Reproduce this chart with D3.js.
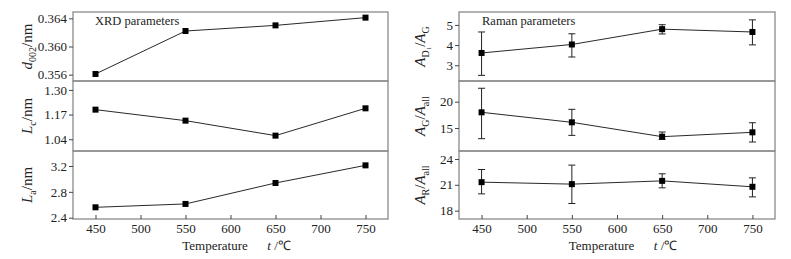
<!DOCTYPE html>
<html><head><meta charset="utf-8">
<script src="https://cdn.jsdelivr.net/npm/d3@7"></script>
<style>body{margin:0;background:#fff}svg{display:block}text{font-family:"Liberation Serif","Times New Roman",serif;fill:#222}</style>
</head><body><svg id="c" width="791" height="259"></svg>
<script>
const temps = [450, 550, 650, 750];
const xTicks = [450, 500, 550, 600, 650, 700, 750];
// XRD parameters
const d002 = [0.3561, 0.3622, 0.3630, 0.3641];
const Lc = [1.196, 1.138, 1.059, 1.203];
const La = [2.561, 2.613, 2.937, 3.21];
// Raman parameters (value, error low, error high)
const AD1AG = [3.61, 4.03, 4.79, 4.65];
const AD1AG_lo = [2.50, 3.41, 4.55, 4.01];
const AD1AG_hi = [4.65, 4.56, 5.01, 5.25];
const AGAall = [17.98, 16.08, 13.35, 14.18];
const AGAall_lo = [12.97, 13.60, 12.85, 12.34];
const AGAall_hi = [22.55, 18.55, 14.24, 16.00];
const ARAall = [21.31, 21.08, 21.46, 20.77];
const ARAall_lo = [19.95, 18.83, 20.65, 19.60];
const ARAall_hi = [22.78, 23.29, 22.28, 21.81];

const svg = d3.select("#c");
const frameCol = "#8a8a8a";
const tops = [12, 81, 151], bots = [81, 151, 219];

const charts = [
  {x0: 73, x1: 388, title: "XRD parameters", titleX: 95, labelX: 27,
   panels: [
    {vals: d002, dom: [0.3551, 0.3649], ticks: [0.356, 0.360, 0.364], fmt: d3.format(".3f"),
     lab: ["d", "002", "/nm", ""]},
    {vals: Lc, dom: [0.978, 1.347], ticks: [1.04, 1.17, 1.30], fmt: d3.format(".2f"),
     lab: ["L", "c", "/nm", ""]},
    {vals: La, dom: [2.38, 3.432], ticks: [2.4, 2.8, 3.2], fmt: d3.format(".1f"),
     lab: ["L", "a", "/nm", ""]}
   ]},
  {x0: 459, x1: 775, title: "Raman parameters", titleX: 482, labelX: 420,
   panels: [
    {vals: AD1AG, lo: AD1AG_lo, hi: AD1AG_hi, dom: [2.22, 5.64], ticks: [3, 4, 5], fmt: d3.format("d"),
     lab: ["A", "D\u2081", "/", "A", "G"]},
    {vals: AGAall, lo: AGAall_lo, hi: AGAall_hi, dom: [10.63, 23.93], ticks: [15, 20], fmt: d3.format("d"),
     lab: ["A", "G", "/", "A", "all"]},
    {vals: ARAall, lo: ARAall_lo, hi: ARAall_hi, dom: [17.03, 24.93], ticks: [18, 21, 24], fmt: d3.format("d"),
     lab: ["A", "R", "/", "A", "all"]}
   ]}
];

charts.forEach(ch => {
  const x = d3.scaleLinear().domain([425, 775]).range([ch.x0, ch.x1]);
  ch.panels.forEach((p, i) => {
    const y = d3.scaleLinear().domain(p.dom).range([bots[i], tops[i]]);
    const g = svg.append("g");
    g.append("rect").attr("x", ch.x0).attr("y", tops[i]).attr("width", ch.x1 - ch.x0)
      .attr("height", bots[i] - tops[i]).attr("fill", "none").attr("stroke", frameCol).attr("stroke-width", 1.3);
    // y axis
    const ya = g.append("g").attr("transform", `translate(${ch.x0},0)`)
      .call(d3.axisLeft(y).tickValues(p.ticks).tickFormat(p.fmt).tickSize(4).tickPadding(2));
    ya.select(".domain").remove();
    ya.selectAll("line").attr("stroke", "#444");
    ya.selectAll("text").attr("font-size", 13).attr("fill", "#222").attr("font-family", "Liberation Serif");
    // line
    const pts = temps.map((t, k) => [x(t), y(p.vals[k])]);
    g.append("path").attr("d", d3.line()(pts)).attr("fill", "none").attr("stroke", "#111").attr("stroke-width", 0.9);
    if (p.lo) {
      temps.forEach((t, k) => {
        const xx = x(t), ylo = y(p.lo[k]), yhi = y(p.hi[k]);
        g.append("line").attr("x1", xx).attr("x2", xx).attr("y1", ylo).attr("y2", yhi).attr("stroke", "#222");
        [ylo, yhi].forEach(yy => g.append("line").attr("x1", xx - 3.5).attr("x2", xx + 3.5)
          .attr("y1", yy).attr("y2", yy).attr("stroke", "#222"));
      });
    }
    g.selectAll("rect.m").data(pts).join("rect").attr("class", "m")
      .attr("x", d => d[0] - 3).attr("y", d => d[1] - 3).attr("width", 6).attr("height", 6).attr("fill", "#000");
    // y label
    const cy = (tops[i] + bots[i]) / 2;
    const t = g.append("text").attr("transform", `translate(${ch.labelX + 5},${cy}) rotate(-90)`)
      .attr("text-anchor", "middle").attr("font-size", 15);
    t.append("tspan").attr("font-style", "italic").text(p.lab[0]);
    t.append("tspan").attr("font-size", 10).attr("dy", 4).text(p.lab[1]);
    if (p.lab[3]) {
      t.append("tspan").attr("dy", -4).text(p.lab[2]);
      t.append("tspan").attr("font-style", "italic").text(p.lab[3]);
      t.append("tspan").attr("font-size", 10).attr("dy", 4).text(p.lab[4]);
    } else {
      t.append("tspan").attr("dy", -4).text(p.lab[2]);
    }
  });
  // x axis (ticks inward)
  const xa = svg.append("g").attr("transform", `translate(0,${bots[2]})`)
    .call(d3.axisBottom(x).tickValues(xTicks).tickSize(-4).tickPadding(5));
  xa.select(".domain").remove();
  xa.selectAll("line").attr("stroke", "#444");
  xa.selectAll("text").attr("font-size", 13).attr("fill", "#222").attr("font-family", "Liberation Serif");
  // title
  svg.append("text").attr("x", ch.titleX).attr("y", 25).attr("font-size", 12.5).text(ch.title);
  // x label
  const cx = (ch.x0 + ch.x1) / 2;
  const xl = svg.append("text").attr("x", cx + 6).attr("y", 250).attr("text-anchor", "middle").attr("font-size", 13);
  xl.append("tspan").text("Temperature\u2003\u2002");
  xl.append("tspan").attr("font-style", "italic").text("t");
  xl.append("tspan").text(" /\u2103");
});
</script></body></html>
